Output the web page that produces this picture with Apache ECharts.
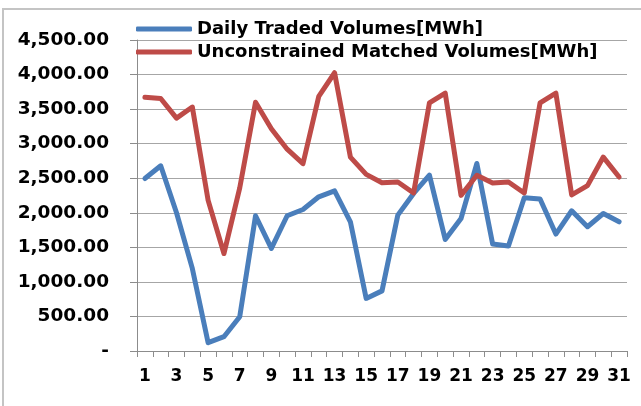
<!DOCTYPE html>
<html lang="en">
<head>
    <meta charset="UTF-8">
    <title>Daily volumes</title>
    <script type="text/javascript" src="https://cdn.jsdelivr.net/npm/echarts@6/dist/echarts.min.js"></script>
    <style>
        body{
            padding: 0px;
            margin: 0px;
            background-color: #ffffff;
        }
        #chart{
            width: 641px;
            height: 406px;
        }
    </style>
</head>
<body>
    <div id="chart"></div>
    <script>
    var days = [];
    for (var d = 1; d <= 31; d++) days.push(String(d));

    var tradedVolumes = [2496, 2680, 2000, 1195, 120, 207, 496, 1957, 1484, 1957, 2048, 2231, 2318, 1870, 761, 870,
                         1966, 2280, 2545, 1614, 1918, 2713, 1547, 1518, 2217, 2198, 1692, 2029, 1798, 1990, 1870];
    var matchedVolumes = [3672, 3653, 3370, 3530, 2180, 1410, 2360, 3600, 3215, 2920, 2710, 3685, 4026, 2806, 2556, 2434,
                          2445, 2287, 3590, 3733, 2252, 2542, 2431, 2445, 2287, 3590, 3733, 2258, 2393, 2806, 2517];
    var yTicks = [0, 500, 1000, 1500, 2000, 2500, 3000, 3500, 4000, 4500];

    var chart = echarts.init(document.getElementById('chart'), null, {renderer: 'canvas'});
    var font = 'DejaVu Sans';

    function fmt(v) {
        if (v === 0) return '-';
        return v.toLocaleString('en-US', {minimumFractionDigits: 2, maximumFractionDigits: 2});
    }

    chart.setOption({
        animation: false,
        backgroundColor: '#ffffff',
        graphic: [{
            type: 'rect',
            shape: {x: 3, y: 9, width: 800, height: 600},
            style: {fill: 'none', stroke: '#c4c4c4', lineWidth: 2},
            silent: true
        }],
        grid: {left: 137, right: 14, top: 40, bottom: 55},
        legend: {
            orient: 'vertical',
            left: 131,
            top: 15,
            icon: 'roundRect',
            itemWidth: 56,
            itemHeight: 5,
            itemGap: 5,
            textStyle: {fontFamily: font, fontWeight: 'bold', fontSize: 18, color: '#000'},
            data: ['Daily Traded Volumes[MWh]', 'Unconstrained Matched Volumes[MWh]']
        },
        xAxis: {
            type: 'category',
            data: days,
            boundaryGap: true,
            axisLine: {lineStyle: {color: '#8c8c8c', width: 1}},
            axisTick: {show: true, alignWithLabel: false, interval: 0, length: 6, lineStyle: {color: '#8c8c8c'}},
            axisLabel: {interval: 1, margin: 17, fontFamily: font, fontWeight: 'bold', fontSize: 17, color: '#000'},
            splitLine: {show: false}
        },
        yAxis: {
            type: 'value',
            min: yTicks[0],
            max: yTicks[yTicks.length - 1],
            interval: 500,
            axisLine: {show: true, lineStyle: {color: '#8c8c8c', width: 1}},
            axisTick: {show: true, length: 7, lineStyle: {color: '#8c8c8c'}},
            axisLabel: {margin: 28, fontFamily: font, fontWeight: 'bold', fontSize: 18.5, color: '#000', formatter: fmt},
            splitLine: {show: true, lineStyle: {color: '#a6a6a6', width: 1}}
        },
        series: [{
            name: 'Daily Traded Volumes[MWh]',
            type: 'line',
            data: tradedVolumes,
            symbol: 'none',
            color: '#4a7ebb',
            lineStyle: {width: 5, color: '#4a7ebb', cap: 'round', join: 'round'}
        }, {
            name: 'Unconstrained Matched Volumes[MWh]',
            type: 'line',
            data: matchedVolumes,
            symbol: 'none',
            color: '#be4b48',
            lineStyle: {width: 5, color: '#be4b48', cap: 'round', join: 'round'}
        }]
    });
    </script>
</body>
</html>
